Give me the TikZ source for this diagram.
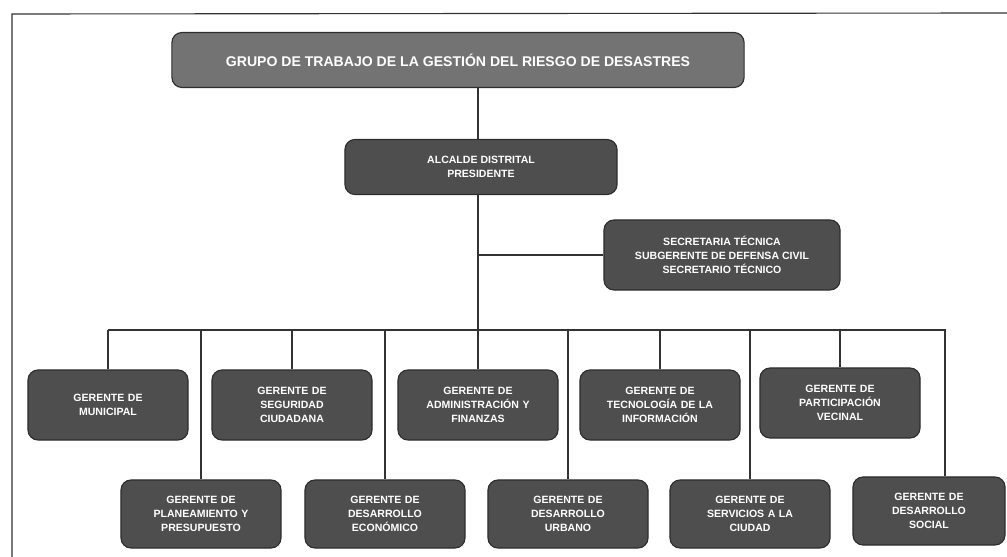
\documentclass[tikz,border=0pt]{standalone}
\usepackage{fontspec}
\setmainfont{Liberation Sans}
\definecolor{cajagris}{RGB}{78,78,78}
\definecolor{cajaclara}{RGB}{115,115,115}
\definecolor{bordegris}{RGB}{45,45,45}
\tikzset{
    caja/.style={draw=bordegris,line width=0.8pt,fill=cajagris,text=white,rounded corners=0.25cm,align=center,inner sep=2pt,font=\fontsize{7.5}{10}\selectfont\bfseries},
    gerente/.style={caja,minimum width=4cm,minimum height=1.75cm,text width=3.8cm},
    linea/.style={line width=0.8pt,black!80}
}
\begin{document}
\begin{tikzpicture}[x=0.025cm,y=-0.025cm]
\useasboundingbox (0,0) rectangle (1007,557);
\draw[linea] (1007,13) -- (12,14) -- (12,557);
\node[caja,fill=cajaclara,minimum width=14.3cm,minimum height=1.375cm,font=\fontsize{10}{12}\selectfont\bfseries] (grupo) at (458,60) {GRUPO DE TRABAJO DE LA GESTIÓN DEL RIESGO DE DESASTRES};
\node[caja,minimum width=6.8cm,minimum height=1.375cm] (alcalde) at (481,167) {ALCALDE DISTRITAL\\PRESIDENTE};
\node[caja,minimum width=5.9cm,minimum height=1.75cm] (secretaria) at (722,255) {SECRETARIA TÉCNICA\\SUBGERENTE DE DEFENSA CIVIL\\SECRETARIO TÉCNICO};
\node[gerente] (gm) at (108,405) {GERENTE DE\\MUNICIPAL};
\node[gerente] (gsc) at (292,405) {GERENTE DE\\SEGURIDAD\\CIUDADANA};
\node[gerente] (gaf) at (478,405) {GERENTE DE\\ADMINISTRACIÓN Y\\FINANZAS};
\node[gerente] (gti) at (660,405) {GERENTE DE\\TECNOLOGÍA DE LA\\INFORMACIÓN};
\node[gerente] (gpv) at (840,403) {GERENTE DE\\PARTICIPACIÓN\\VECINAL};
\node[gerente,minimum height=1.7cm] (gpp) at (201,514) {GERENTE DE\\PLANEAMIENTO Y\\PRESUPUESTO};
\node[gerente,minimum height=1.7cm] (gde) at (385,514) {GERENTE DE\\DESARROLLO\\ECONÓMICO};
\node[gerente,minimum height=1.7cm] (gdu) at (568,514) {GERENTE DE\\DESARROLLO\\URBANO};
\node[gerente,minimum height=1.7cm] (gsci) at (750,514) {GERENTE DE\\SERVICIOS A LA\\CIUDAD};
\node[gerente,minimum width=3.8cm,text width=3.6cm,minimum height=1.7cm] (gds) at (929,511) {GERENTE DE\\DESARROLLO\\SOCIAL};
\coordinate (bus) at (478,330);
\coordinate (fin) at (945,330);
\draw[linea] (grupo.south -| bus) -- (alcalde.north -| bus)
    (alcalde.south -| bus) -- (bus)
    (bus |- secretaria.west) -- (secretaria.west)
    (gm.north |- bus) -- (fin) -- (fin |- gds.north);
\draw[linea] (gm.north |- bus) -- (gm.north)
    (gsc.north |- bus) -- (gsc.north)
    (gaf.north |- bus) -- (gaf.north)
    (gti.north |- bus) -- (gti.north)
    (gpv.north |- bus) -- (gpv.north)
    (gpp.north |- bus) -- (gpp.north)
    (gde.north |- bus) -- (gde.north)
    (gdu.north |- bus) -- (gdu.north)
    (gsci.north |- bus) -- (gsci.north);
\end{tikzpicture}
\end{document}
